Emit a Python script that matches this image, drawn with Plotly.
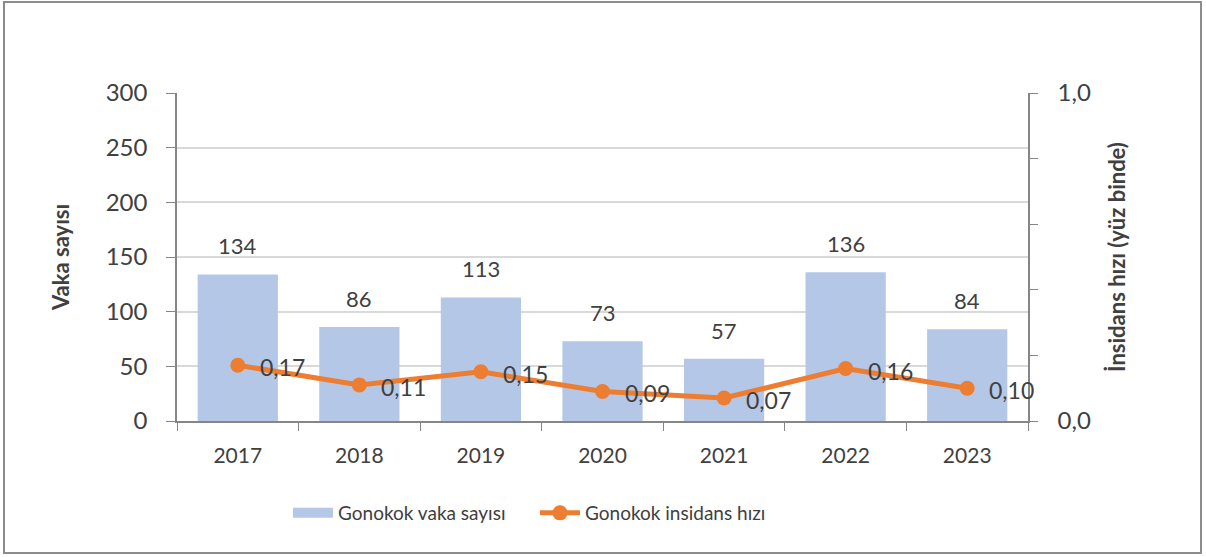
import plotly.graph_objects as go

years = ["2017", "2018", "2019", "2020", "2021", "2022", "2023"]
vaka_sayisi = [134, 86, 113, 73, 57, 136, 84]
insidans_hizi = [0.17, 0.11, 0.15, 0.09, 0.07, 0.16, 0.10]
y2_tickvals = [0, 0.2, 0.4, 0.6, 0.8, 1.0]
y2_ticktext = ["0,0", "", "", "", "", "1,0"]

FONT = "Lato"
TXT = "#404040"
AX = "#868686"
BAR = "#B4C7E7"
LINE = "#ED7D31"

fig = go.Figure()
fig.add_trace(go.Bar(
    x=years, y=vaka_sayisi, name="Gonokok vaka sayısı",
    marker=dict(color=BAR, line=dict(width=0)), showlegend=False,
))
# legend proxy for the bar series (wide rectangle symbol)
fig.add_trace(go.Scatter(
    x=[years[0]], y=[None], mode="lines", name="Gonokok vaka sayısı",
    line=dict(color=BAR, width=15), showlegend=True, hoverinfo="skip",
))
fig.add_trace(go.Scatter(
    x=years, y=insidans_hizi, name="Gonokok insidans hızı", yaxis="y2",
    mode="lines+markers",
    line=dict(color=LINE, width=5),
    marker=dict(color=LINE, size=15),
))

annotations = []
for i, v in enumerate(vaka_sayisi):
    annotations.append(dict(x=i, y=v, xref="x", yref="y", text=str(v), showarrow=False,
                            yanchor="bottom", yshift=13,
                            font=dict(size=22, color=TXT, family=FONT)))
for i, v in enumerate(insidans_hizi):
    annotations.append(dict(x=i, y=v, xref="x", yref="y2", text=f"{v:.2f}".replace(".", ","),
                            showarrow=False, xanchor="left", xshift=20, yshift=-2,
                            font=dict(size=23, color=TXT, family=FONT)))

L, R, T, B = 177, 1028, 93, 421
W, H = R - L, B - T

def px(x):
    return (x - L) / W

def py(y):
    return (B - y) / H

fig.update_layout(
    width=1206, height=557,
    margin=dict(l=L, r=1206 - R, t=T, b=557 - B, pad=0),
    paper_bgcolor="white", plot_bgcolor="white",
    font=dict(family=FONT, color=TXT),
    separators=",.",
    bargap=0.34,
    showlegend=True,
    legend=dict(orientation="h", x=px(288), xanchor="left", y=py(513), yanchor="middle",
                font=dict(size=19, color=TXT, family=FONT), itemwidth=40,
                entrywidth=192, entrywidthmode="pixels",
                traceorder="normal", itemclick=False),
    xaxis=dict(type="category", range=[-0.5, 6.5], showline=True, linecolor=AX, linewidth=1.5,
               ticks="outside", tickson="boundaries", ticklen=8, tickcolor=AX,
               ticklabelstandoff=15, tickangle=0,
               tickfont=dict(size=21, color=TXT), showgrid=False),
    yaxis=dict(range=[0, 300], dtick=50, showline=True, linecolor=AX, linewidth=1.5,
               ticks="outside", ticklen=9, tickcolor=AX,
               gridcolor="#D9D9D9", gridwidth=1.5, ticklabelstandoff=14,
               tickfont=dict(size=24, color=TXT), zeroline=False,
               title=dict(text="<b>Vaka sayısı</b>", font=dict(size=22, color=TXT), standoff=30)),
    yaxis2=dict(range=[0, 1], overlaying="y", side="right", showline=True, linecolor=AX,
                linewidth=1.5, ticks="outside", ticklen=8, tickcolor=AX,
                tickvals=y2_tickvals, ticktext=y2_ticktext, showgrid=False, zeroline=False,
                ticklabelstandoff=15,
                tickfont=dict(size=24, color=TXT),
                title=dict(text="<b>İnsidans hızı (yüz binde)</b>", font=dict(size=22, color=TXT), standoff=20)),
    annotations=annotations,
    shapes=[dict(type="rect", xref="paper", yref="paper",
                 x0=px(4), x1=px(1201), y0=py(553), y1=py(2),
                 line=dict(color="#8C8C8C", width=2), fillcolor="rgba(0,0,0,0)", layer="below")],
)

fig.write_html("out.html", post_script="document.body.style.margin='0';",
               config={"displayModeBar": False})
